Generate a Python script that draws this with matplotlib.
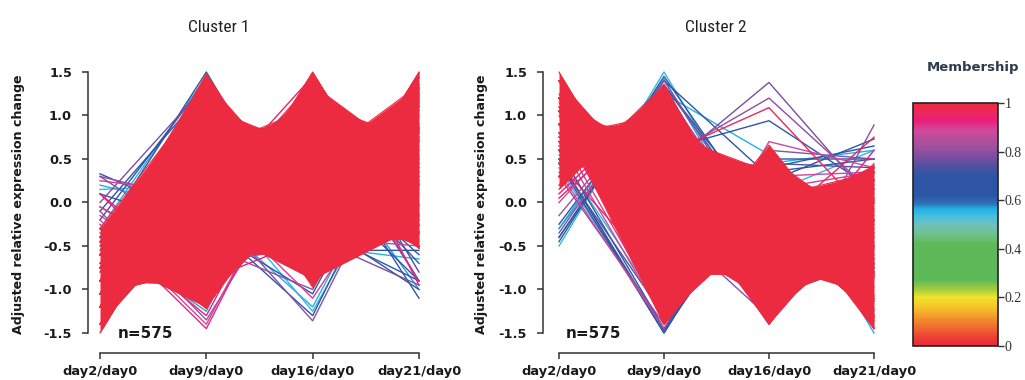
import numpy as np
import matplotlib
matplotlib.use('Agg')
import matplotlib.pyplot as plt
from matplotlib.colors import LinearSegmentedColormap, Normalize
from matplotlib.cm import ScalarMappable

time_labels = ['day2/day0', 'day9/day0', 'day16/day0', 'day21/day0']
cluster_titles = ['Cluster 1', 'Cluster 2']
cluster_sizes = [575, 575]
y_ticks = [-1.5, -1.0, -0.5, 0.0, 0.5, 1.0, 1.5]
cbar_ticks = [0, 0.2, 0.4, 0.6, 0.8, 1]
cbar_ticklabels = ['0', '0.2', '0.4', '0.6', '0.8', '1']

# standardised profiles with membership close to 1 (the red core of each cluster)
c1_core = [
    (-1.5, 0.5, 0.5, 0.5),
    (-1.4, 0.975, 0.213, 0.213), (-1.4, 0.721, 0.721, -0.041), (-1.4, 0.213, 0.975, 0.213),
    (-1.4, -0.041, 0.721, 0.721), (-1.4, 0.213, 0.213, 0.975), (-1.4, 0.721, -0.041, 0.721),
    (-1.2, 1.249, -0.025, -0.025), (-1.2, 1.135, 0.4, -0.335), (-1.2, 1.10, 0.60, -0.50),
    (-1.2, 0.60, 1.10, -0.50),
    (-1.2, 0.4, 1.135, -0.335), (-1.2, -0.025, 1.249, -0.025), (-1.2, -0.335, 1.135, 0.4),
    (-1.2, -0.449, 0.825, 0.825), (-1.2, -0.335, 0.4, 1.135), (-1.2, -0.025, -0.025, 1.249),
    (-1.2, 0.4, -0.335, 1.135), (-1.2, 0.825, -0.449, 0.825), (-1.2, 1.135, -0.335, 0.4),
    (-1.05, 1.36, -0.155, -0.155), (-1.05, 1.225, 0.35, -0.525), (-1.05, 0.35, 1.225, -0.525),
    (-1.05, -0.155, 1.36, -0.155), (-1.05, -0.525, 1.225, 0.35), (-1.05, -0.75, 1.35, 0.45),
    (-1.05, -0.525, 0.35, 1.225), (-1.05, -0.155, -0.155, 1.36), (-1.05, 0.35, -0.525, 1.225),
    (-1.05, 0.855, -0.66, 0.855), (-1.05, 1.225, -0.525, 0.35),
    (-0.9, 1.431, -0.266, -0.266), (-0.9, 1.393, 0.007, -0.5), (-0.9, 0.007, 1.393, -0.5),
    (-0.9, -0.266, 1.431, -0.266), (-0.9, -0.679, 1.279, 0.3), (-0.9, -0.95, 1.15, 0.70),
    (-0.9, -0.679, 0.3, 1.279), (-0.9, -0.266, -0.266, 1.431), (-0.9, 0.3, -0.679, 1.279),
    (-0.9, 0.866, -0.831, 0.866), (-0.9, 1.279, -0.679, 0.3),
    (-0.75, 1.475, -0.362, -0.362), (-0.75, -0.362, 1.475, -0.362), (-0.75, -0.811, 1.311, 0.25),
    (-0.75, -1.05, 0.70, 1.10), (-0.75, -0.811, 0.25, 1.311), (-0.75, -0.362, -0.362, 1.475),
    (-0.75, 0.25, -0.811, 1.311), (-0.75, 0.862, -0.975, 0.862), (-0.75, 1.311, -0.811, 0.25),
    (-0.6, 1.47, -0.448, -0.42), (-0.6, -0.448, 1.496, -0.448), (-0.6, -0.922, 1.322, 0.2),
    (-0.6, -1.052, 1.116, 0.536), (-0.6, -1.096, 0.848, 0.848), (-0.6, -1.052, 0.536, 1.116),
    (-0.6, -1.20, 0.45, 1.35),
    (-0.6, -0.922, 0.2, 1.322), (-0.6, -0.448, -0.448, 1.496), (-0.6, 0.2, -0.922, 1.322),
    (-0.6, 1.322, -0.922, 0.2), (-0.6, 1.42, -0.716, -0.136),
    (-0.45, -0.525, 1.499, -0.525), (-0.45, -0.804, 1.453, -0.199),
    (-0.45, -1.018, 1.318, 0.15), (-0.45, -1.153, 1.104, 0.499), (-0.45, -1.199, 0.825, 0.825),
    (-0.45, -1.153, 0.499, 1.104), (-0.45, -1.018, 0.15, 1.318), (-0.45, -0.525, -0.525, 1.499),
    (-0.45, -0.199, -0.804, 1.453), (-0.45, 1.40, -0.804, -0.199),
    (-0.3, -0.88, 1.439, -0.259), (-0.3, -1.1, 1.3, 0.1), (-0.3, -1.22, 0.793, 0.793),
    (-0.3, -1.1, 0.1, 1.3), (-0.3, -0.593, -0.593, 1.486), (-0.3, -0.259, -0.88, 1.439),
    (-0.3, 1.30, -0.88, -0.259),
]

# lower-membership profiles of cluster 1 and their membership values
c1_outliers = [
    (-0.40, 1.50, -0.55, -0.55), (-0.30, 1.45, -0.50, -0.65), (-0.20, 1.40, -0.30, -0.90),
    (0.00, 1.35, -0.40, -0.95), (-0.10, 1.30, -0.20, -1.00), (-0.55, 1.45, -0.40, -0.50),
    (0.33, -0.20, -1.30, 1.17), (0.30, 0.00, -1.36, 1.06), (0.20, -0.10, -1.20, 1.10),
    (0.25, 0.10, -1.10, 0.75), (0.15, 0.20, -1.25, 0.90), (0.30, -0.50, -1.00, 1.20),
    (0.10, -0.30, -1.05, 1.25), (-0.60, 0.90, 0.80, -1.10), (-0.50, 1.10, 0.30, -0.90),
    (-0.70, 0.60, 1.00, -0.90), (-0.40, 0.70, 0.70, -1.00), (-0.80, 0.90, 0.60, -0.70),
    (-0.60, 0.40, 1.10, -0.90), (-0.90, 1.00, 0.50, -0.60), (-0.75, 0.30, 1.25, -0.80),
    (-0.20, -1.40, 0.90, 0.70), (-0.30, -1.30, 1.00, 0.60), (-0.10, -1.35, 0.60, 0.85),
    (-0.40, -1.25, 1.20, 0.45), (-0.25, -1.45, 0.95, 0.75), (-0.60, 0.10, 1.45, -0.95),
    (-0.70, -0.40, 1.45, -0.35), (-0.05, -0.80, -0.25, 1.10), (0.10, -0.90, -0.40, 1.20),
    (-0.15, -1.00, 0.15, 1.00), (-0.35, -0.80, 0.00, 1.15), (-0.05, -0.70, -0.50, 1.25),
    (0.10, -1.10, 0.20, 0.80),
]
c1_membership = [
    0.64, 0.56, 0.68, 0.78, 0.70, 0.86,
    0.66, 0.80, 0.56, 0.90, 0.55, 0.80,
    0.65, 0.66, 0.70, 0.76, 0.57, 0.67,
    0.80, 0.64, 0.74, 0.88, 0.93, 0.82,
    0.57, 0.92, 0.94, 0.95, 0.90, 0.93,
    0.87, 0.92, 0.80, 0.93,
]

c2_core = [
    (1.5, -0.5, -0.5, -0.5),
    (1.4, 0.041, -0.721, -0.721), (1.4, -0.213, -0.213, -0.975), (1.4, -0.721, 0.041, -0.721),
    (1.4, -0.975, -0.213, -0.213), (1.4, -0.721, -0.721, 0.041), (1.4, -0.213, -0.975, -0.213),
    (1.25, -1.30, -0.10, 0.15),
    (1.2, 0.449, -0.825, -0.825), (1.2, 0.335, -0.4, -1.135), (1.2, 0.025, 0.025, -1.249),
    (1.2, -0.4, 0.335, -1.135), (1.2, -0.825, 0.449, -0.825), (1.2, -1.135, 0.335, -0.4),
    (1.2, -1.249, 0.025, 0.025), (1.2, -1.135, -0.4, 0.335), (1.2, -0.825, -0.825, 0.449),
    (1.2, -0.4, -1.135, 0.335), (1.2, 0.025, -1.249, 0.025), (1.2, 0.335, -1.135, -0.4),
    (1.2, -1.35, 0.15, 0.0), (1.15, -1.40, 0.20, 0.05),
    (1.1, -1.38, 0.35, -0.07), (1.1, -1.32, -0.20, 0.42),
    (1.05, 0.66, -0.855, -0.855), (1.05, 0.525, -0.35, -1.225), (1.05, 0.155, 0.155, -1.36),
    (1.05, -0.35, 0.525, -1.225), (1.05, -0.855, 0.66, -0.855), (1.05, -1.225, 0.525, -0.35),
    (1.05, -1.36, 0.155, 0.155), (1.05, 0.155, -1.36, 0.155), (1.05, 0.525, -1.225, -0.35),
    (1.05, -1.20, -0.25, 0.40), (1.0, -1.40, 0.05, 0.35),
    (0.9, 0.85, -1.10, -0.65), (0.9, 0.679, -0.3, -1.279), (0.9, 0.266, 0.266, -1.431),
    (0.9, -0.007, 0.5, -1.393), (0.9, 0.266, -1.40, 0.266), (0.9, 0.5, -1.393, -0.007),
    (0.9, 0.679, -1.279, -0.3),
    (0.75, 1.02, -0.70, -1.07), (0.75, 0.811, -0.25, -1.311), (0.75, 0.35, 0.25, -1.35),
    (0.75, 0.811, -1.311, -0.25),
    (0.6, 1.096, -0.848, -0.848), (0.6, 1.052, -0.536, -1.116), (0.6, 0.922, -0.2, -1.322),
    (0.6, 0.716, 0.136, -1.452), (0.6, 0.45, 0.30, -1.35),
    (0.6, 0.922, -1.322, -0.2), (0.6, 1.052, -1.116, -0.536),
    (0.45, 1.199, -0.825, -0.825), (0.45, 1.153, -0.499, -1.104), (0.45, 1.018, -0.15, -1.318),
    (0.45, 0.60, 0.40, -1.45), (0.45, 1.018, -1.318, -0.15), (0.45, 1.153, -1.104, -0.499),
    (0.3, 1.286, -0.793, -0.793), (0.3, 1.239, -0.459, -1.08), (0.3, 1.1, -0.1, -1.3),
    (0.3, 0.88, 0.259, -1.439), (0.3, 0.80, 0.35, -1.45), (0.3, 1.239, -1.08, -0.459),
    (0.3, 1.1, -1.3, -0.1),
    (0.15, 1.357, -0.754, -0.754),
]

c2_outliers = [
    (-0.50, 1.50, -0.50, -0.50), (-0.45, 1.45, -0.30, -0.70), (-0.35, 1.40, -0.45, -0.60),
    (-0.25, 1.35, -0.30, -0.80), (-0.15, 1.30, -0.50, -0.65), (0.00, 1.30, -0.60, -0.70),
    (0.10, 1.25, -0.55, -0.80), (0.20, 1.20, -0.70, -0.70), (0.30, 1.10, -0.60, -0.80),
    (-0.30, 1.42, -0.60, -0.52), (-0.40, 1.35, -0.20, -0.75), (0.05, 1.15, -0.35, -0.85),
    (0.50, -1.50, 0.50, 0.50), (0.45, -1.50, 0.40, 0.65), (0.40, -1.45, 0.45, 0.60),
    (0.30, -1.40, 0.60, 0.50), (0.35, -1.45, 0.70, 0.40),
    (0.50, 0.38, 1.38, 0.00), (0.60, 0.50, 1.20, 0.10), (0.70, 0.55, 1.09, -0.20),
    (0.80, 0.60, 0.94, 0.15), (0.65, -0.22, -1.32, 0.89), (0.50, -1.47, 0.24, 0.73),
    (0.60, -1.45, 0.35, 0.50), (0.45, -1.30, 0.45, 0.40), (0.70, -1.35, 0.30, 0.35),
    (0.90, -1.20, -0.10, 0.40), (0.80, -1.30, 0.15, 0.35), (0.55, -1.25, 0.10, 0.60),
    (0.80, 0.40, -1.40, 0.20), (0.90, 0.20, -1.35, 0.25), (0.60, 0.50, -1.35, 0.25),
    (0.70, -0.40, -0.90, 0.60), (0.45, -0.90, -0.30, 0.75),
    (-0.40, 1.40, 0.30, -1.30), (-0.30, 1.25, 0.55, -1.50),
]
c2_membership = [
    0.55, 0.65, 0.80, 0.70, 0.82, 0.88,
    0.93, 0.95, 0.90, 0.57, 0.62, 0.94,
    0.66, 0.70, 0.56, 0.80, 0.88,
    0.78, 0.80, 0.96, 0.68, 0.80, 0.62,
    0.66, 0.74, 0.88, 0.93, 0.90, 0.55,
    0.80, 0.68, 0.88, 0.93, 0.95,
    0.64, 0.56,
]
core_membership = 1.0

# membership colour scale ("fancy" style)
cmap_stops = [0.00, 0.04, 0.08, 0.12, 0.16, 0.20, 0.23, 0.27, 0.42, 0.46, 0.50, 0.53,
              0.56, 0.59, 0.62, 0.70, 0.74, 0.78, 0.83, 0.89, 0.93, 0.97, 1.00]
cmap_colors = ['#EB2A3A', '#EE4433', '#F0702E', '#F39A2B', '#F7C52A', '#F1E42A', '#A8CD3E',
               '#5DB957', '#5DB957', '#71C08C', '#6EC1BD', '#4DC0D8', '#23B3E8', '#2F6DB5',
               '#2E55A4', '#2E55A4', '#4E51A0', '#7C4E9F', '#A6509E', '#D2489A', '#EB1E7B',
               '#EC2A55', '#EC2A40']
cmap = LinearSegmentedColormap.from_list('membership', list(zip(cmap_stops, cmap_colors)))

W, H = 1025, 380
fig = plt.figure(figsize=(W / 100, H / 100), dpi=100)


def draw_cluster(ax, core, outliers, members, n, yoffset_px, n_x):
    x = np.arange(len(time_labels))
    memb = np.asarray(members)
    order = np.argsort(memb, kind='stable')
    for i in order:
        ax.plot(x, outliers[i], color=cmap(memb[i]), lw=1.0, clip_on=False,
                solid_joinstyle='round', zorder=2)

    # the high-membership profiles are so dense they merge into one solid band
    core = np.asarray(core)
    xg = np.linspace(0, 3, 901)
    yg = np.array([np.interp(xg, x, p) for p in core])
    red = cmap(core_membership)
    ax.fill_between(xg, yg.min(axis=0), yg.max(axis=0), color=red, lw=0, clip_on=False, zorder=3)
    for p in core:
        ax.plot(x, p, color=red, lw=0.8, clip_on=False, zorder=3)

    ax.set_xlim(0, 3)
    ax.set_ylim(-1.5, 1.5)
    for s in ['top', 'right']:
        ax.spines[s].set_visible(False)
    ax.spines['left'].set_position(('outward', yoffset_px * 0.72))
    ax.spines['bottom'].set_position(('outward', 20 * 0.72))
    for s in ['left', 'bottom']:
        ax.spines[s].set_linewidth(1.1)
        ax.spines[s].set_color('#333333')
    ax.set_xticks(x)
    ax.set_xticklabels(time_labels, fontsize=9.4, fontweight='bold')
    ax.set_yticks(y_ticks)
    ax.set_yticklabels([f'{v:.1f}' for v in y_ticks], fontsize=9.3, fontweight='bold')
    ax.tick_params(axis='both', length=4.5, width=1.1, color='#333333', labelcolor='#1a1a1a')
    ax.tick_params(axis='y', pad=7)
    ax.tick_params(axis='x', pad=4)
    ax.text(n_x, -1.5, f'n={n}', fontsize=11, fontweight='bold', color='#1a1a1a',
            ha='left', va='center', zorder=5)


ax1 = fig.add_axes([100 / W, 1 - 333 / H, 319 / W, 261 / H])
draw_cluster(ax1, c1_core, c1_outliers, c1_membership, cluster_sizes[0], 12, 0.17)

ax2 = fig.add_axes([559 / W, 1 - 333 / H, 315 / W, 261 / H])
draw_cluster(ax2, c2_core, c2_outliers, c2_membership, cluster_sizes[1], 16, 0.06)

title_font = ['Liberation Sans Narrow', 'DejaVu Sans Condensed', 'Roboto Condensed', 'DejaVu Sans']
fig.text(219 / W, 1 - 27 / H, cluster_titles[0], family=title_font, fontsize=12.5,
         color='#222222', ha='center', va='center')
fig.text(716 / W, 1 - 27 / H, cluster_titles[1], family=title_font, fontsize=12.5,
         color='#222222', ha='center', va='center')

for xpx in [19, 481]:
    fig.text(xpx / W, 1 - 204 / H, 'Adjusted relative expression change', rotation=90,
             fontsize=9.1, fontweight='bold', color='#1a1a1a', ha='center', va='center')

# colour bar
cax = fig.add_axes([913 / W, 1 - 346 / H, 85 / W, 243 / H])
sm = ScalarMappable(norm=Normalize(0, 1), cmap=cmap)
cb = fig.colorbar(sm, cax=cax, ticks=cbar_ticks)
cb.ax.set_yticklabels(cbar_ticklabels, family='Liberation Serif', fontsize=10, color='#333333')
cb.ax.tick_params(length=4, width=1, color='#333333', pad=1)
cb.outline.set_linewidth(1.2)
cb.outline.set_edgecolor('#222222')
fig.text(973 / W, 1 - 67 / H, 'Membership', fontsize=9.5, fontweight='bold', color='#2E3B4E',
         ha='center', va='center')

fig.savefig('out.png', dpi=100)
